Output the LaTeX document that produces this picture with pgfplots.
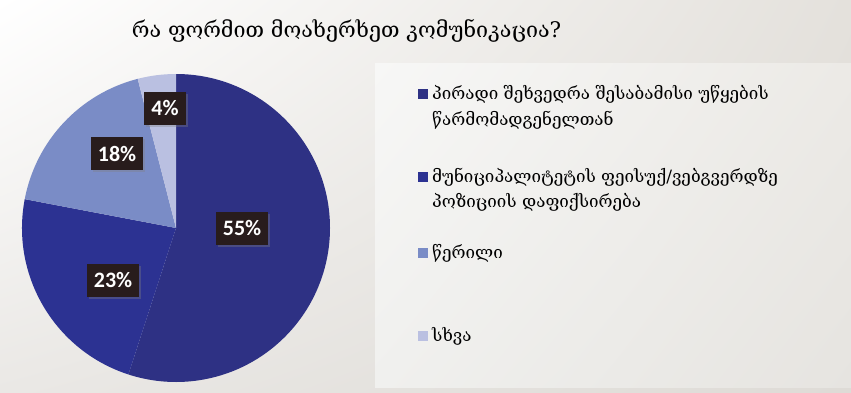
\documentclass[border=0pt]{standalone}
\usepackage{pgfplots}
\pgfplotsset{compat=1.18}
\usepackage{pgfplotstable}
\usepackage{fontspec}
\setmainfont{DejaVu Serif}
\newfontfamily\labfont{Carlito}
\usetikzlibrary{shadows,shadings}
\definecolor{cA}{RGB}{46,49,132}
\definecolor{cB}{RGB}{44,50,146}
\definecolor{cC}{RGB}{122,140,198}
\definecolor{cD}{RGB}{186,192,225}
\definecolor{boxc}{RGB}{40,28,28}
\definecolor{bgTR}{RGB}{228,225,220}
\definecolor{bgBL}{RGB}{234,232,229}
\definecolor{bgBR}{RGB}{222,219,214}
\definecolor{pTL}{RGB}{247,247,246}
\definecolor{pTR}{RGB}{236,234,230}
\definecolor{pBL}{RGB}{240,240,238}
\definecolor{pBR}{RGB}{230,228,224}

\pgfplotstableread{
value
55
23
18
4
}\piedata

\begin{document}
\begin{tikzpicture}[x=1pt,y=1pt]
\shade[upper left=white, upper right=bgTR, lower left=bgBL, lower right=bgBR] (0,0) rectangle (851,392);
\shade[upper left=pTL, upper right=pTR, lower left=pBL, lower right=pBR] (375,5) rectangle (851,329);

\pgfplotstablegetelem{0}{value}\of\piedata\pgfmathsetmacro\vA{\pgfplotsretval}
\pgfplotstablegetelem{1}{value}\of\piedata\pgfmathsetmacro\vB{\pgfplotsretval}
\pgfplotstablegetelem{2}{value}\of\piedata\pgfmathsetmacro\vC{\pgfplotsretval}
\pgfplotstablegetelem{3}{value}\of\piedata\pgfmathsetmacro\vD{\pgfplotsretval}
\pgfmathsetmacro\aA{90}
\pgfmathsetmacro\aB{\aA-3.6*\vA}
\pgfmathsetmacro\aC{\aB-3.6*\vB}
\pgfmathsetmacro\aD{\aC-3.6*\vC}
\pgfmathsetmacro\aE{\aD-3.6*\vD}
\pgfmathtruncatemacro\pA{\vA}
\pgfmathtruncatemacro\pB{\vB}
\pgfmathtruncatemacro\pC{\vC}
\pgfmathtruncatemacro\pD{\vD}

\begin{axis}[at={(176pt,164pt)}, anchor=center, scale only axis,
  width=308pt, height=308pt, xmin=-1, xmax=1, ymin=-1, ymax=1,
  hide axis, clip=false]
\fill[cA] (axis cs:0,0) -- (axis cs:{cos(\aA)},{sin(\aA)}) arc[start angle=\aA, end angle=\aB, radius=154pt] -- cycle;
\fill[cB] (axis cs:0,0) -- (axis cs:{cos(\aB)},{sin(\aB)}) arc[start angle=\aB, end angle=\aC, radius=154pt] -- cycle;
\fill[cC] (axis cs:0,0) -- (axis cs:{cos(\aC)},{sin(\aC)}) arc[start angle=\aC, end angle=\aD, radius=154pt] -- cycle;
\fill[cD] (axis cs:0,0) -- (axis cs:{cos(\aD)},{sin(\aD)}) arc[start angle=\aD, end angle=\aE, radius=154pt] -- cycle;
\tikzset{lab/.style={fill=boxc, text=white, font=\labfont\bfseries\fontsize{22}{22}\selectfont,
  minimum height=33pt, inner xsep=7pt, inner ysep=0pt,
  drop shadow={opacity=0.35, shadow xshift=2pt, shadow yshift=-2pt}}}
\node[lab] at (axis cs:0.429,0) {\pA\%};
\node[lab] at (axis cs:-0.409,-0.338) {\pB\%};
\node[lab] at (axis cs:-0.383,0.481) {\pC\%};
\node[lab] at (axis cs:-0.071,0.779) {\pD\%};
\end{axis}

\node[font=\fontsize{21.5}{21.5}\selectfont, anchor=base] at (346.5,355) {რა ფორმით მოახერხეთ კომუნიკაცია?};

\begin{scope}[every node/.style={font=\fontsize{17}{17}\selectfont, anchor=base west, inner sep=0pt}]
\fill[cA] (418,293) rectangle (428,303);
\node at (432,293) {პირადი შეხვედრა შესაბამისი უწყების};
\node at (432,267) {წარმომადგენელთან};
\fill[cB] (418,210) rectangle (428,220);
\node at (432,210) {მუნიციპალიტეტის ფეისუქ/ვებგვერდზე};
\node at (432,185) {პოზიციის დაფიქსირება};
\fill[cC] (418,134) rectangle (428,144);
\node at (432,134) {წერილი};
\fill[cD] (418,51) rectangle (428,61);
\node at (432,51) {სხვა};
\end{scope}
\end{tikzpicture}
\end{document}
